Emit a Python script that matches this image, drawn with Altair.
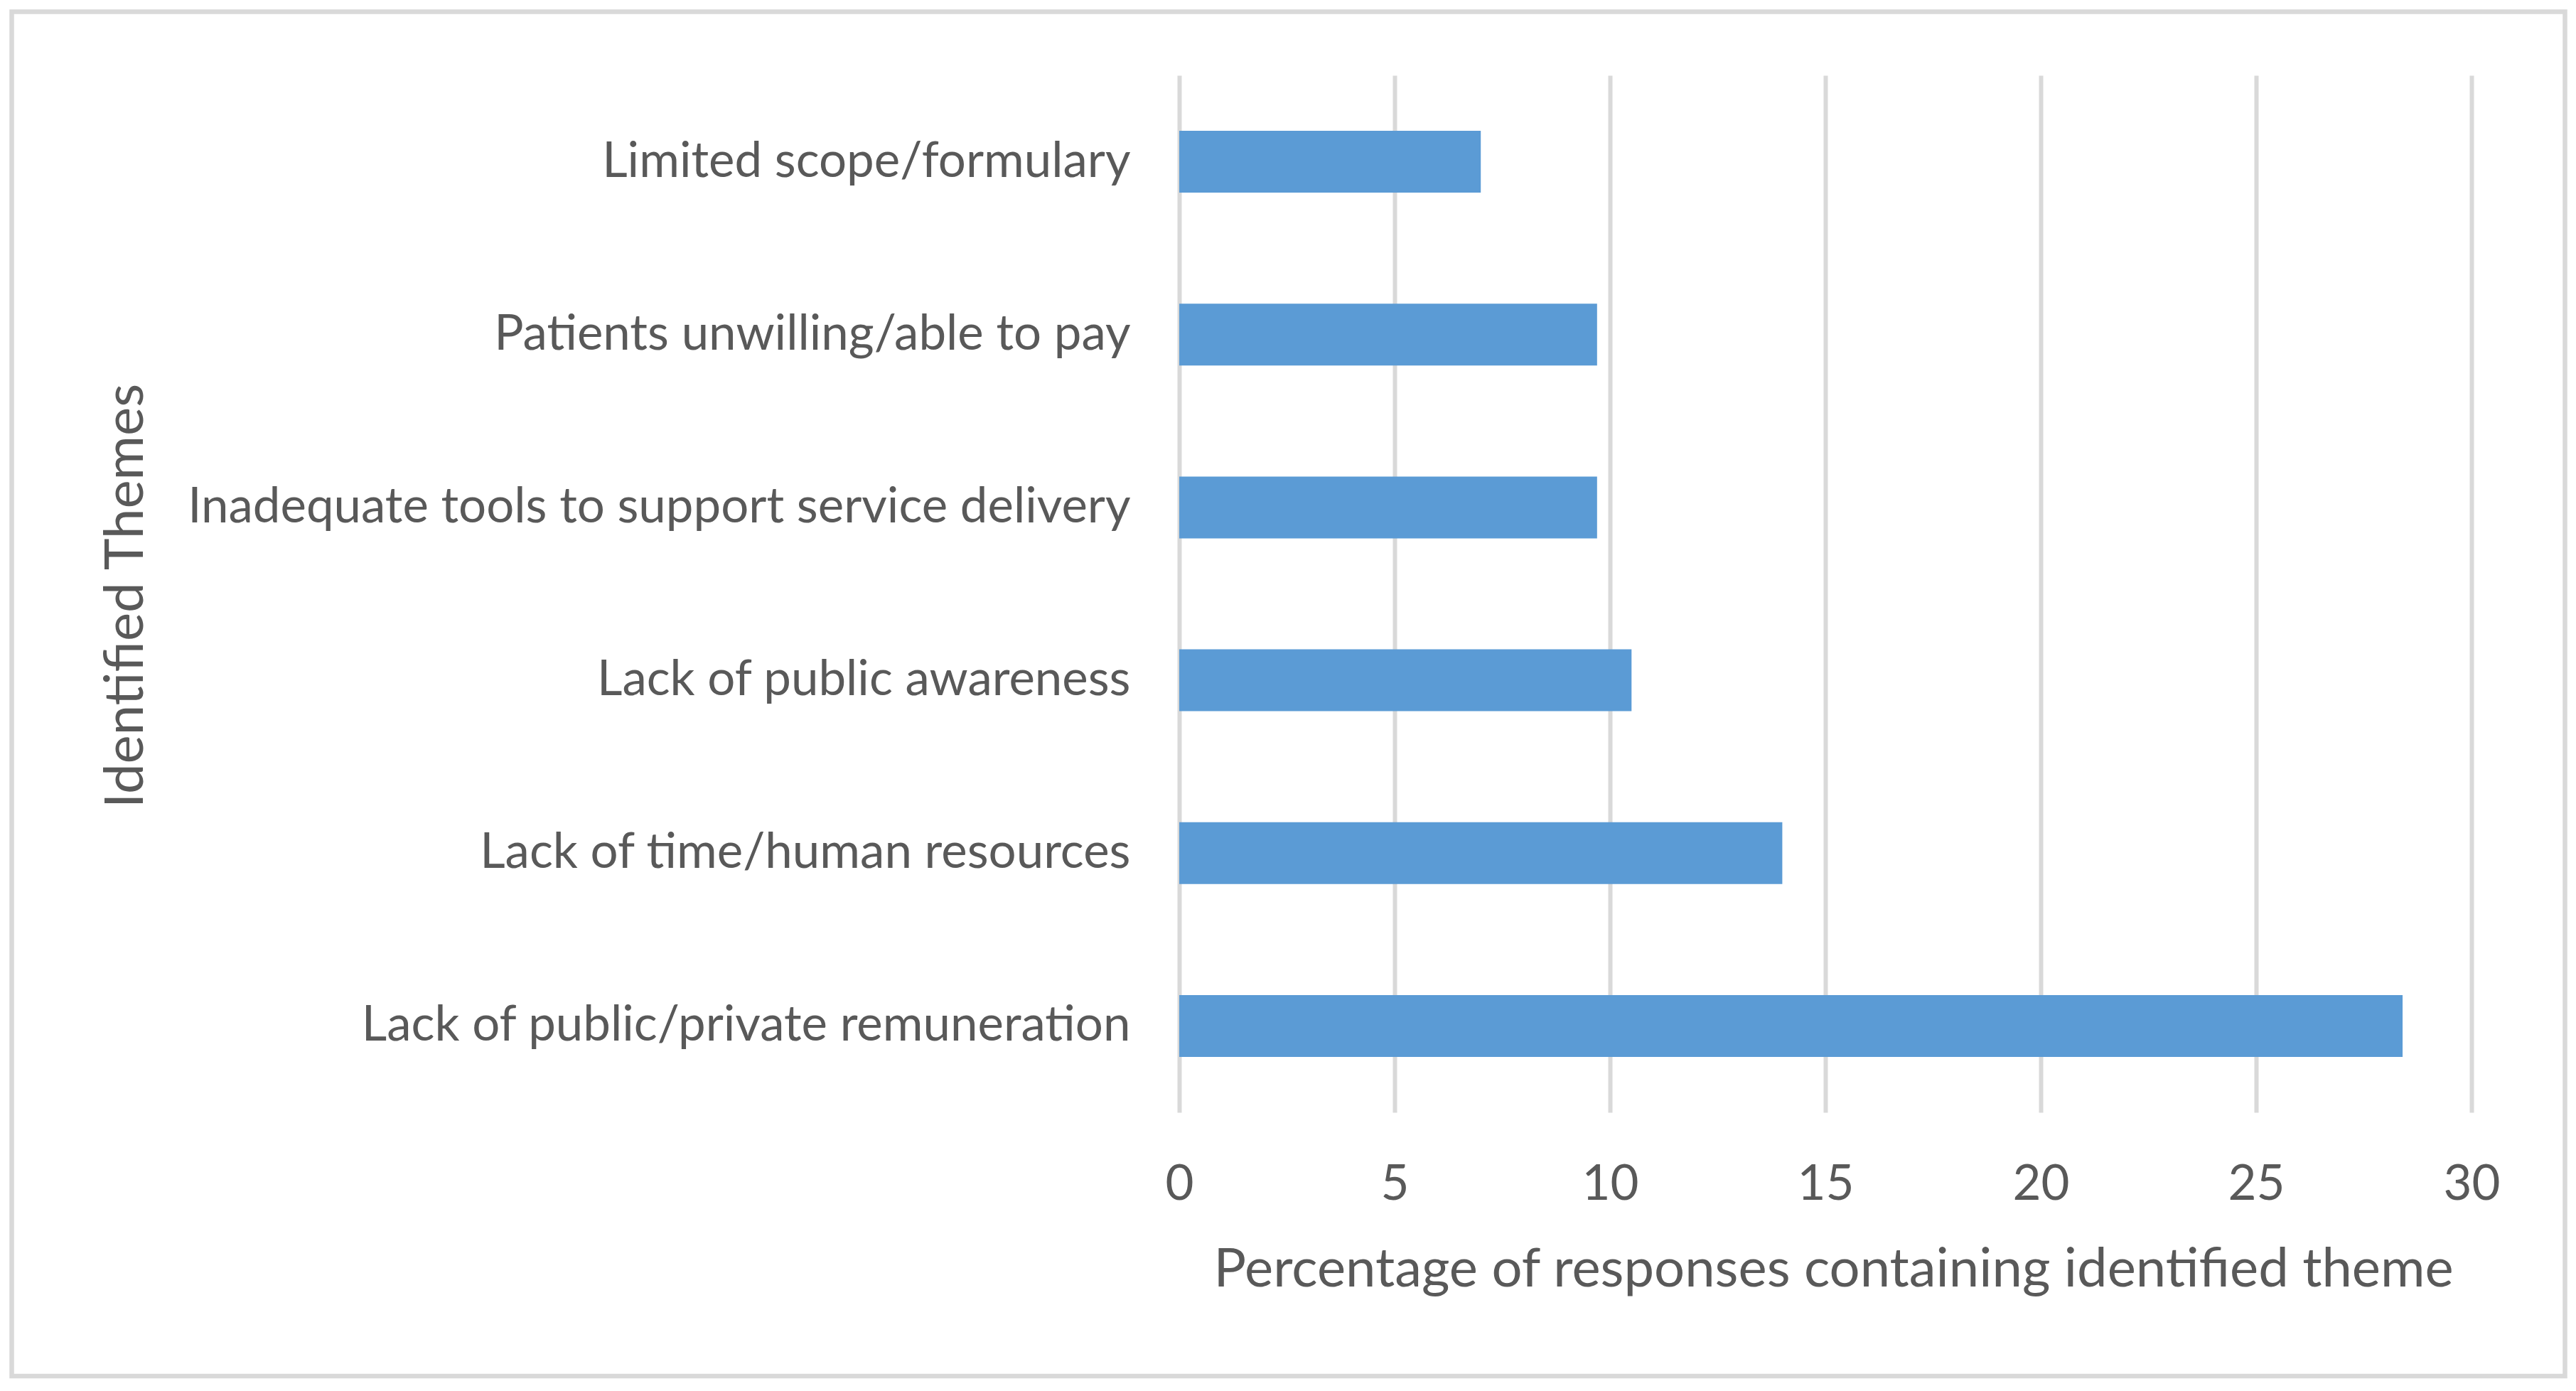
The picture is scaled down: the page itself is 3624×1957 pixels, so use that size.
import altair as alt
import pandas as pd

themes = [
    "Limited scope/formulary",
    "Patients unwilling/able to pay",
    "Inadequate tools to support service delivery",
    "Lack of public awareness",
    "Lack of time/human resources",
    "Lack of public/private remuneration",
]
percentages = [7.0, 9.7, 9.7, 10.5, 14.0, 28.4]
x_ticks = [0, 5, 10, 15, 20, 25, 30]

df = pd.DataFrame({"theme": themes, "pct": percentages})

FONT = "Lato"
TXT = "#595959"
GRID = "#D9D9D9"

bars = alt.Chart(df).mark_bar(color="#5B9BD5").encode(
    x=alt.X(
        "pct:Q",
        scale=alt.Scale(domain=[0, 30], nice=False, zero=True),
        axis=alt.Axis(
            values=x_ticks,
            title="Percentage of responses containing identified theme",
            grid=True,
            gridColor=GRID,
            gridWidth=6,
            domain=False,
            ticks=False,
            tickSize=0,
            labelFont=FONT,
            labelFontSize=69,
            labelColor=TXT,
            labelBaseline="alphabetic",
            labelPadding=122,
            labelFlush=False,
            titleFont=FONT,
            titleFontSize=76,
            titleFontWeight="normal",
            titleColor=TXT,
            titleBaseline="alphabetic",
            titleAlign="center",
            titleX=920,
            titleY=244,
        ),
    ),
    y=alt.Y(
        "theme:N",
        sort=themes,
        scale=alt.Scale(paddingInner=0.642, paddingOuter=0.321),
        axis=alt.Axis(
            title="Identified Themes",
            grid=False,
            domain=False,
            ticks=False,
            tickSize=0,
            labelFont=FONT,
            labelFontSize=69,
            labelColor=TXT,
            labelAlign="right",
            labelPadding=69,
            labelLimit=3000,
            titleFont=FONT,
            titleFontSize=76,
            titleFontWeight="normal",
            titleColor=TXT,
            titleAngle=270,
            titleBaseline="alphabetic",
            titleAlign="center",
            titleX=-1459,
            titleY=732,
        ),
    ),
)

frame = alt.Chart(pd.DataFrame({"a": [0]})).mark_rect(
    fillOpacity=0, stroke=GRID, strokeWidth=6.5
).encode(
    x=alt.value(-1642.5),
    x2=alt.value(1949.5),
    y=alt.value(-89.5),
    y2=alt.value(1830),
)

chart = alt.layer(frame, bars).properties(
    width=1818,
    height=1459,
    autosize=alt.AutoSizeParams(type="none"),
    padding={"left": 1651, "top": 98, "right": 139, "bottom": 376},
    background="white",
).configure_view(stroke=None)

chart.save("out.html", embed_options={"renderer": "svg", "actions": False})
